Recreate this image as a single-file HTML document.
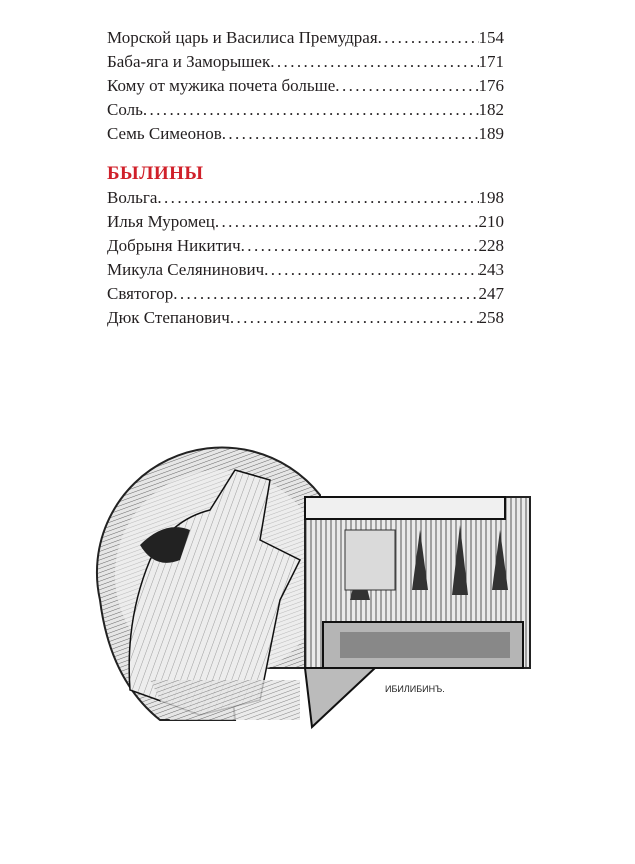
<!DOCTYPE html>
<html><head><meta charset="utf-8"><style>
html,body{margin:0;padding:0;background:#fff;}
body{width:635px;height:864px;position:relative;overflow:hidden;font-family:"Liberation Serif","DejaVu Serif",serif;color:#231f20;}
.r{position:absolute;left:107px;width:397px;font-size:17px;line-height:20px;display:flex;white-space:nowrap;overflow:hidden;}
.r .t{flex:none;}
.r .d{flex:1;overflow:hidden;letter-spacing:2.4px;}
.r .d::before{content:"........................................................................................";}
.r .n{flex:none;}
.h{position:absolute;left:107px;top:163px;font-size:19px;font-weight:bold;color:#d0202a;letter-spacing:0.5px;}
</style></head><body>
<div class="r" style="top:28px"><span class="t">Морской царь и Василиса Премудрая</span><span class="d"></span><span class="n">154</span></div>
<div class="r" style="top:52px"><span class="t">Баба-яга и Заморышек</span><span class="d"></span><span class="n">171</span></div>
<div class="r" style="top:76px"><span class="t">Кому от мужика почета больше</span><span class="d"></span><span class="n">176</span></div>
<div class="r" style="top:100px"><span class="t">Соль</span><span class="d"></span><span class="n">182</span></div>
<div class="r" style="top:124px"><span class="t">Семь Симеонов</span><span class="d"></span><span class="n">189</span></div>
<div class="h">БЫЛИНЫ</div>
<div class="r" style="top:188px"><span class="t">Вольга</span><span class="d"></span><span class="n">198</span></div>
<div class="r" style="top:212px"><span class="t">Илья Муромец</span><span class="d"></span><span class="n">210</span></div>
<div class="r" style="top:236px"><span class="t">Добрыня Никитич</span><span class="d"></span><span class="n">228</span></div>
<div class="r" style="top:260px"><span class="t">Микула Селянинович</span><span class="d"></span><span class="n">243</span></div>
<div class="r" style="top:284px"><span class="t">Святогор</span><span class="d"></span><span class="n">247</span></div>
<div class="r" style="top:308px"><span class="t">Дюк Степанович</span><span class="d"></span><span class="n">258</span></div>

<svg style="position:absolute;left:0;top:0" width="635" height="864">
<defs>
<pattern id="hp" width="4" height="4" patternUnits="userSpaceOnUse" patternTransform="rotate(70)">
<rect width="4" height="4" fill="#e6e6e6"/><line x1="0" y1="0" x2="0" y2="4" stroke="#666" stroke-width="1"/></pattern>
<pattern id="vp" width="5" height="5" patternUnits="userSpaceOnUse">
<rect width="5" height="5" fill="#eaeaea"/><line x1="1" y1="0" x2="1" y2="5" stroke="#555" stroke-width="1"/></pattern>
<pattern id="fp" width="6" height="6" patternUnits="userSpaceOnUse" patternTransform="rotate(20)">
<rect width="6" height="6" fill="#ededed"/><line x1="0" y1="0" x2="0" y2="6" stroke="#888" stroke-width="0.8"/></pattern>
</defs>
<path d="M100,600 A125,125 0 0 1 320,495 L320,668 L230,668 L235,720 L160,720 Q110,680 100,600 Z" fill="url(#hp)" stroke="#222" stroke-width="2"/>
<circle cx="220" cy="575" r="105" fill="#f2f2f2" opacity="0.6"/>
<path d="M150,560 Q170,520 210,510 L235,470 L270,480 L260,540 L300,560 L280,600 L260,700 L200,715 L130,690 Q125,620 150,560Z" fill="url(#fp)" stroke="#111" stroke-width="1.5"/>
<path d="M140,545 Q165,520 190,530 L180,560 Q155,570 140,545Z" fill="#222"/>
<path d="M305,497 L530,497 L530,668 L305,668 Z" fill="url(#vp)" stroke="#222" stroke-width="2"/>
<rect x="305" y="497" width="200" height="22" fill="#f0f0f0" stroke="#111" stroke-width="2"/>
<rect x="323" y="622" width="200" height="46" fill="#b5b5b5" stroke="#111" stroke-width="2"/>
<rect x="340" y="632" width="170" height="26" fill="#888"/>
<path d="M420,530 l8,60 l-16,0z M460,525 l8,70 l-16,0z M500,530 l8,60 l-16,0z M360,560 l10,40 l-20,0z" fill="#333"/>
<rect x="345" y="530" width="50" height="60" fill="#dadada" stroke="#333"/>
<path d="M305,668 L375,668 L312,727 Z" fill="#bbb" stroke="#111" stroke-width="2"/>
<path d="M150,680 L300,680 L300,720 L170,720Z" fill="url(#hp)" opacity="0.8"/>
<text x="385" y="692" font-family="Liberation Sans,sans-serif" font-size="9" fill="#222">ИБИЛИБИНЪ.</text>
</svg>
</body></html>
